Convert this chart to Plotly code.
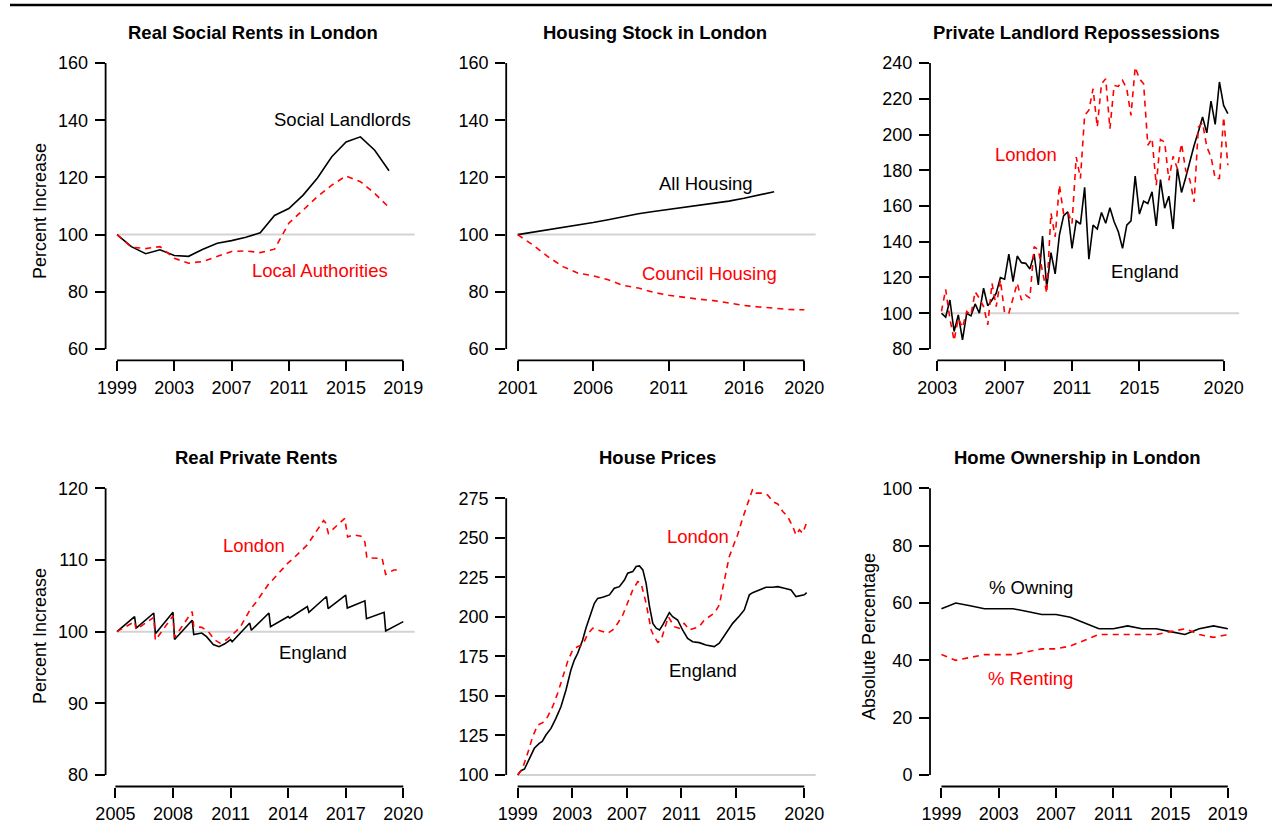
import plotly.graph_objects as go

# ---------------- data ----------------
# Panel 1: Real Social Rents in London (index, 1999 = 100)
social_years = list(range(1999, 2019))
social_landlords = [100, 95.8, 93.3, 94.7, 92.7, 92.4, 94.9, 97.0, 97.9, 99.1,
                    100.6, 106.7, 109.1, 113.8, 119.8, 127.2, 132.4, 134.2, 129.5, 122.3]
local_authorities = [100, 95.6, 95.1, 95.8, 91.7, 90.0, 90.6, 92.3, 94.1, 94.3,
                     93.7, 94.9, 104.0, 108.6, 113.3, 117.3, 120.5, 118.5, 114.4, 109.5]

# Panel 2: Housing Stock in London
stock_years = list(range(2001, 2021))
all_housing = [100, 100.8, 101.6, 102.6, 103.4, 104.2, 105.2, 106.3, 107.3, 108.1,
               108.8, 109.5, 110.2, 110.9, 111.7, 112.7, 113.8, 115.0]
council_housing = [100, 96.4, 92.3, 88.8, 86.5, 85.6, 84.2, 82.2, 81.3, 79.8,
                   78.8, 78.0, 77.4, 76.9, 76.0, 75.2, 74.7, 74.2, 73.8, 73.7]

# Panel 3: Private Landlord Repossessions (quarterly, 2003 Q2 .. 2020 Q2)
repo_quarters = [2003.25 + 0.25 * i for i in range(69)]
repo_england = [100, 97.8, 107.4, 89.8, 99.1, 85.1, 100, 98.5, 105.2, 100,
                114, 104.1, 107.4, 111.2, 119.9, 119, 133.1, 117.7, 132.0, 128.3,
                127.9, 124.8, 133.1, 115.8, 143.2, 114.5, 133.9, 122, 143.7, 154.5,
                156.8, 136.3, 151.7, 149.9, 170.4, 130.2,
                149.3, 147.1, 156.4, 150.3, 159, 151.2, 145.6, 136.3, 149.3, 151.7,
                176.7, 155.5, 162.7, 161.4, 167.9, 148.8, 174.8, 158.8, 165.5, 147.1,
                181, 167.6, 175.9, 185.6, 194, 201.5, 209.8, 200.9, 218.7, 205.7,
                229.4, 216.3, 211.7]
repo_london = [101, 113.4, 97, 84.7, 97.2, 92, 101, 99, 112, 108.4,
               103.7, 93.5, 116.8, 103.7, 118.6, 100, 100, 108.4, 116.8, 107.4,
               110.2, 108.4, 137.2, 135.4, 124.2, 111.2, 156, 142.8, 171.7, 155.8,
               156.8, 150.2, 187.4, 175.4, 210.8, 213.6,
               225.6, 204.2, 228.4, 231.2, 203.3, 227.5, 226.9, 230.3, 225.6, 210.7,
               237.7, 231.2, 228.4, 194, 197.7, 171.7, 197.2, 195.8, 174.4, 187.8,
               181, 194.9, 180, 174.4, 162.3, 204.2, 206.5, 193.1, 187.5, 175.4,
               175.4, 209.8, 182.8]

# Panel 4: Real Private Rents
rent_eng_x = [2005.083, 2006.0, 2006.083, 2007.0, 2007.083, 2008.0, 2008.083, 2009.0,
              2009.083, 2009.5, 2009.75, 2010.1, 2010.4, 2010.7, 2011.0, 2011.083,
              2012.0, 2012.083, 2013.0, 2013.083, 2014.0, 2014.083, 2015.0, 2015.083,
              2016.0, 2016.083, 2017.0, 2017.083, 2018.0, 2018.083, 2019.0, 2019.083, 2020.0]
rent_eng_y = [100.0, 102.1, 100.5, 102.6, 99.7, 102.7, 98.9, 101.6,
              99.6, 99.8, 99.3, 98.2, 97.9, 98.3, 98.9, 98.6,
              101.2, 100.2, 102.6, 100.7, 102.1, 101.9, 103.5, 102.7,
              104.9, 103.2, 105.1, 103.3, 104.3, 101.8, 102.7, 100.1, 101.4]
rent_lon_x = [2005.083, 2006.0, 2006.083, 2007.0, 2007.083, 2008.0, 2008.083, 2009.0,
              2009.083, 2009.5, 2009.85, 2010.15, 2010.45, 2010.8, 2011.1, 2011.5,
              2012.0, 2012.3, 2013.0, 2013.15, 2014.0, 2014.3, 2015.0, 2015.5,
              2015.85, 2015.95, 2016.1, 2016.5, 2016.95, 2017.1, 2017.4, 2017.8,
              2018.0, 2018.1, 2018.9, 2019.08, 2019.5, 2019.67]
rent_lon_y = [100.0, 101.4, 100.3, 102.0, 98.8, 102.2, 99.2, 102.8,
              100.7, 100.6, 100.0, 98.9, 98.4, 98.9, 99.6, 100.6,
              103.0, 104.0, 106.7, 107.1, 109.6, 110.3, 112.1, 114.0,
              115.5, 115.2, 113.7, 114.7, 115.8, 113.2, 113.5, 113.3,
              112.5, 110.3, 110.2, 108.0, 108.6, 108.6]

# Panel 5: House Prices
hp_eng_x = [1999.0, 1999.24, 1999.5, 1999.85, 2000.22, 2000.58, 2000.8, 2001.07, 2001.44,
            2001.8, 2002.17, 2002.54, 2002.9, 2003.15, 2003.4, 2003.76, 2004.0, 2004.37,
            2004.62, 2004.86, 2005.23, 2005.72, 2006.08, 2006.45, 2006.82, 2007.06,
            2007.43, 2007.68, 2007.92, 2008.17, 2008.41, 2008.66, 2008.9, 2009.15,
            2009.39, 2009.63, 2009.88, 2010.11, 2010.35, 2010.72, 2011.08, 2011.45,
            2011.82, 2012.3, 2012.79, 2013.4, 2013.77, 2014.26, 2014.75, 2015.24,
            2015.6, 2015.97, 2016.21, 2016.7, 2017.19, 2017.68, 2018.05, 2018.54,
            2019.03, 2019.39, 2019.76, 2020.0, 2020.17]
hp_eng_y = [100, 102.7, 103.8, 110.5, 116.9, 120.0, 121.2, 125.3, 129.5,
            135.8, 143.2, 153.8, 166.4, 172.7, 177.0, 185.4, 192.8, 202.3,
            208.6, 211.7, 212.4, 213.9, 218.1, 219.1, 223.3, 227.6,
            228.6, 231.8, 232.2, 229.7, 221.2, 206.5, 195.9, 192.8,
            191.7, 194.9, 199.1, 202.7, 200.1, 198.0, 191.7, 186.4,
            184.3, 183.7, 182.2, 181.2, 183.3, 189.6, 195.9, 200.6,
            204.4, 213.9, 215.3, 217.0, 218.7, 218.7, 219.1, 218.1,
            217.0, 212.8, 213.2, 213.9, 215.3]
hp_lon_x = [1999.0, 1999.35, 1999.73, 2000.1, 2000.46, 2000.83, 2001.2, 2001.56, 2001.93,
            2002.3, 2002.66, 2003.03, 2003.4, 2003.76, 2004.13, 2004.5, 2004.86, 2005.23,
            2005.6, 2005.96, 2006.33, 2006.7, 2007.06, 2007.43, 2007.8, 2008.04, 2008.41,
            2008.78, 2009.0, 2009.27, 2009.51, 2009.88, 2010.04, 2010.47, 2010.84, 2011.2,
            2011.57, 2011.94, 2012.3, 2012.67, 2013.04, 2013.4, 2013.77, 2014.0, 2014.26,
            2014.5, 2014.87, 2015.11, 2015.48, 2015.84, 2016.21, 2016.46, 2016.95, 2017.31,
            2017.68, 2018.05, 2018.42, 2018.78, 2019.15, 2019.39, 2019.64, 2019.88, 2020.17]
hp_lon_y = [100, 104.0, 113.7, 124.2, 131.6, 133.1, 136.9, 143.2, 151.7,
            161.1, 171.7, 179.1, 181.2, 182.2, 189.2, 192.8, 191.7, 190.7,
            189.6, 191.7, 195.9, 201.2, 208.6, 217.0, 222.3, 221.2, 208.6,
            191.7, 187.5, 183.9, 185.4, 195.9, 200.1, 193.8, 192.8, 195.9,
            191.7, 192.8, 193.8, 198.0, 200.1, 202.3, 207.5, 217.0, 227.6,
            238.1, 246.5, 251.8, 262.3, 271.8, 280.7, 278.2, 278.2, 277.1,
            272.9, 271.4, 266.6, 263.4, 257.1, 251.8, 255.0, 252.9, 259.6]

# Panel 6: Home Ownership in London
own_years = list(range(1999, 2020))
pct_owning = [58, 60, 59, 58, 58, 58, 57, 56, 56, 55, 53, 51, 51, 52, 51, 51, 50, 49, 51, 52, 51]
pct_renting = [42, 40, 41, 42, 42, 42, 43, 44, 44, 45, 47, 49, 49, 49, 49, 49, 50, 51, 49, 48, 49]

# tick definitions
ticks = {
    1: dict(x=[1999, 2003, 2007, 2011, 2015, 2019], y=[60, 80, 100, 120, 140, 160]),
    2: dict(x=[2001, 2006, 2011, 2016, 2020], y=[60, 80, 100, 120, 140, 160]),
    3: dict(x=[2003, 2007, 2011, 2015, 2020], y=[80, 100, 120, 140, 160, 180, 200, 220, 240]),
    4: dict(x=[2005, 2008, 2011, 2014, 2017, 2020], y=[80, 90, 100, 110, 120]),
    5: dict(x=[1999, 2003, 2007, 2011, 2015, 2020], y=[100, 125, 150, 175, 200, 225, 250, 275]),
    6: dict(x=[1999, 2003, 2007, 2011, 2015, 2019], y=[0, 20, 40, 60, 80, 100]),
}
titles = {1: "Real Social Rents in London", 2: "Housing Stock in London",
          3: "Private Landlord Repossessions", 4: "Real Private Rents",
          5: "House Prices", 6: "Home Ownership in London"}

# ---------------- layout geometry ----------------
W, H = 1272, 834
FONT = "Liberation Sans, Arial, Helvetica, sans-serif"
col_px = [(105.6, 414.8), (506.2, 815.8), (930.0, 1239.3)]
row_px = [(51.6, 360.4), (476.8, 786.5)]

xranges = {1: [1998.2, 2019.8], 2: [2000.24, 2020.76], 3: [2002.57, 2020.93],
           4: [2004.49, 2020.6], 5: [1998.16, 2020.84], 6: [1998.2, 2019.8]}
yranges = {1: [56, 164], 2: [56, 164], 3: [73.6, 246.4],
           4: [78.4, 121.6], 5: [92.75, 288.55], 6: [-4, 104]}


def sfx(k):
    return "" if k == 1 else str(k)


fig = go.Figure()

BLACK = "black"
RED = "#FF0000"
DASH = "6px,5px"


def add_line(k, x, y, color, dash):
    fig.add_trace(go.Scatter(x=x, y=y, mode="lines", xaxis=f"x{sfx(k)}", yaxis=f"y{sfx(k)}",
                             line=dict(color=color, width=1.6, dash=dash),
                             showlegend=False, hoverinfo="skip"))


add_line(1, social_years, social_landlords, BLACK, "solid")
add_line(1, social_years, local_authorities, RED, DASH)
add_line(2, stock_years[:len(all_housing)], all_housing, BLACK, "solid")
add_line(2, stock_years, council_housing, RED, DASH)
add_line(3, repo_quarters, repo_england, BLACK, "solid")
add_line(3, repo_quarters, repo_london, RED, DASH)
add_line(4, rent_eng_x, rent_eng_y, BLACK, "solid")
add_line(4, rent_lon_x, rent_lon_y, RED, DASH)
add_line(5, hp_eng_x, hp_eng_y, BLACK, "solid")
add_line(5, hp_lon_x, hp_lon_y, RED, DASH)
add_line(6, own_years, pct_owning, BLACK, "solid")
add_line(6, own_years, pct_renting, RED, DASH)

layout = dict(width=W, height=H, margin=dict(l=0, r=0, t=0, b=0, pad=0, autoexpand=False),
              autosize=False, template="none",
              paper_bgcolor="white", plot_bgcolor="white", showlegend=False,
              font=dict(family=FONT, size=18, color="black"))
shapes = []
annotations = []

ref_start = {1: social_years[0], 2: stock_years[0], 3: repo_quarters[0],
             4: rent_eng_x[0], 5: hp_eng_x[0]}

for k in range(1, 7):
    r = (k - 1) // 3
    c = (k - 1) % 3
    x0p, x1p = col_px[c]
    y0p, y1p = row_px[r]
    s = sfx(k)
    layout[f"xaxis{s}"] = dict(
        domain=[x0p / W, x1p / W], anchor=f"y{s}", range=xranges[k], automargin=False,
        tickmode="array", tickvals=ticks[k]["x"], ticktext=[str(v) for v in ticks[k]["x"]],
        ticks="outside", ticklen=10, tickwidth=1.6, tickcolor="black",
        showline=False, showgrid=False, zeroline=False, ticklabelstandoff=1,
        tickfont=dict(size=18, family=FONT, color="black"), fixedrange=True)
    layout[f"yaxis{s}"] = dict(
        domain=[1 - y1p / H, 1 - y0p / H], anchor=f"x{s}", range=yranges[k], automargin=False,
        tickmode="array", tickvals=ticks[k]["y"], ticktext=[str(v) for v in ticks[k]["y"]],
        ticks="outside", ticklen=10, tickwidth=1.6, tickcolor="black",
        showline=False, showgrid=False, zeroline=False, ticklabelstandoff=3,
        tickfont=dict(size=18, family=FONT, color="black"), fixedrange=True)
    # R-style detached axis lines spanning first..last tick
    shapes.append(dict(type="line", xref=f"x{s}", yref=f"y{s} domain",
                       x0=ticks[k]["x"][0], x1=ticks[k]["x"][-1], y0=0, y1=0,
                       line=dict(color="black", width=1.8), layer="above"))
    shapes.append(dict(type="line", xref=f"x{s} domain", yref=f"y{s}",
                       x0=0, x1=0, y0=ticks[k]["y"][0], y1=ticks[k]["y"][-1],
                       line=dict(color="black", width=1.8), layer="above"))
    if k in ref_start:
        shapes.append(dict(type="line", xref=f"x{s}", yref=f"y{s}",
                           x0=ref_start[k], x1=xranges[k][1], y0=100, y1=100,
                           line=dict(color="#D3D3D3", width=2), layer="below"))

# top rule
shapes.append(dict(type="line", xref="paper", yref="paper", x0=10 / W, x1=1,
                   y0=1 - 5 / H, y1=1 - 5 / H, line=dict(color="black", width=2.5)))


def ann(text, xp, yp, color="black", size=18.5, bold=False, angle=0):
    annotations.append(dict(text=f"<b>{text}</b>" if bold else text,
                            x=xp / W, y=1 - yp / H, xref="paper", yref="paper",
                            showarrow=False, xanchor="center", yanchor="middle",
                            textangle=angle,
                            font=dict(family=FONT, size=size, color=color)))


title_pos = {1: (253, 32.5), 2: (654.5, 32.5), 3: (1076.3, 32.5),
             4: (255.5, 457), 5: (657.3, 457), 6: (1077.5, 457)}
for k, (tx, ty) in title_pos.items():
    ann(titles[k], tx, ty, bold=True, size=18.5)

ann("Percent Increase", 40, 211, size=18, angle=-90)
ann("Percent Increase", 40, 636, size=18, angle=-90)
ann("Absolute Percentage", 869, 637, size=18, angle=-90)

ann("Social Landlords", 342.3, 119)
ann("Local Authorities", 320, 270, color=RED)
ann("All Housing", 705.7, 184)
ann("Council Housing", 709, 274, color=RED)
ann("London", 1025.8, 155, color=RED)
ann("England", 1144.7, 271)
ann("London", 254, 545, color=RED)
ann("England", 312.7, 652)
ann("London", 697.8, 536, color=RED)
ann("England", 703, 670)
ann("% Owning", 1031.3, 587)
ann("% Renting", 1030.8, 678, color=RED)

layout["shapes"] = shapes
layout["annotations"] = annotations
fig.update_layout(**layout)

fig.write_html("out.html", config={"displayModeBar": False},
               post_script="document.body.style.margin='0px';"
                           "document.documentElement.style.overflow='hidden';")
